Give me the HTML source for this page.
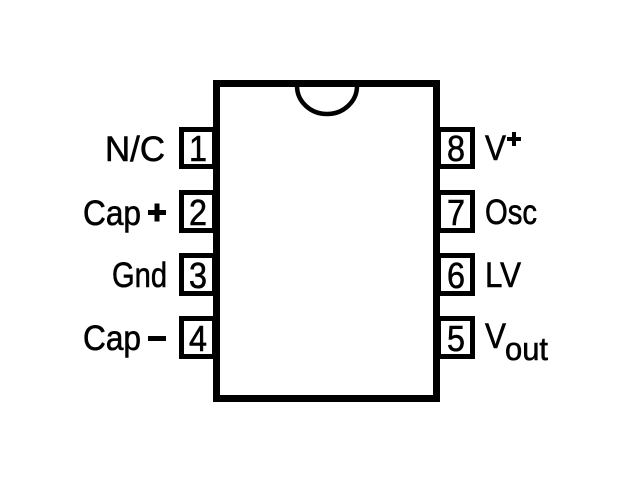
<!DOCTYPE html>
<html><head><style>
html,body{margin:0;padding:0;background:#fff;}
svg text{font-family:"Liberation Sans",sans-serif;fill:#000;stroke:#000;stroke-width:0.6;}
</style></head><body>
<svg width="640" height="492" viewBox="0 0 640 492" xmlns="http://www.w3.org/2000/svg">
<rect x="0" y="0" width="640" height="492" fill="#fff"/>
<g fill="none" stroke="#000">
<rect x="216.5" y="83.5" width="220" height="315" stroke-width="7"/>
<path d="M297 86 A30 28 0 0 0 357 86" stroke-width="4.5"/>
<g stroke-width="5">
<rect x="181.5" y="129.5" width="33" height="37"/>
<rect x="181.5" y="192.5" width="33" height="38"/>
<rect x="181.5" y="255.5" width="33" height="38"/>
<rect x="181.5" y="318.5" width="33" height="38"/>
<rect x="438.5" y="129.5" width="34" height="37"/>
<rect x="438.5" y="192.5" width="34" height="38"/>
<rect x="438.5" y="255.5" width="34" height="38"/>
<rect x="438.5" y="318.5" width="34" height="38"/>
</g>
</g>
<g font-size="36" text-anchor="middle">
<text x="198" y="161" textLength="18" lengthAdjust="spacingAndGlyphs">1</text>
<text x="198" y="225" textLength="18" lengthAdjust="spacingAndGlyphs">2</text>
<text x="198" y="288" textLength="18" lengthAdjust="spacingAndGlyphs">3</text>
<text x="198" y="351" textLength="18" lengthAdjust="spacingAndGlyphs">4</text>
<text x="456" y="161" textLength="18" lengthAdjust="spacingAndGlyphs">8</text>
<text x="456" y="225" textLength="18" lengthAdjust="spacingAndGlyphs">7</text>
<text x="456" y="288" textLength="18" lengthAdjust="spacingAndGlyphs">6</text>
<text x="456" y="351" textLength="18" lengthAdjust="spacingAndGlyphs">5</text>
</g>
<g font-size="35">
<text x="105" y="161" textLength="60" lengthAdjust="spacingAndGlyphs">N/C</text>
<text x="83" y="225" textLength="58" lengthAdjust="spacingAndGlyphs">Cap</text>
<text x="112" y="287" textLength="55" lengthAdjust="spacingAndGlyphs">Gnd</text>
<text x="83" y="350" textLength="58" lengthAdjust="spacingAndGlyphs">Cap</text>
</g>
<rect x="148" y="210" width="18" height="5" fill="#000"/>
<rect x="154.5" y="203.5" width="5" height="18" fill="#000"/>
<rect x="148" y="336" width="18" height="5" fill="#000"/>
<g font-size="35">
<text x="485" y="160" textLength="21" lengthAdjust="spacingAndGlyphs">V</text>
<text x="485" y="224" textLength="52" lengthAdjust="spacingAndGlyphs">Osc</text>
<text x="485" y="287" textLength="36" lengthAdjust="spacingAndGlyphs">LV</text>
<text x="485" y="348" textLength="21" lengthAdjust="spacingAndGlyphs">V</text>
<text x="505" y="360" font-size="32" textLength="43" lengthAdjust="spacingAndGlyphs">out</text>
</g>
<rect x="507" y="137" width="14" height="4" fill="#000"/>
<rect x="512" y="132" width="4" height="14" fill="#000"/>
</svg>
</body></html>
